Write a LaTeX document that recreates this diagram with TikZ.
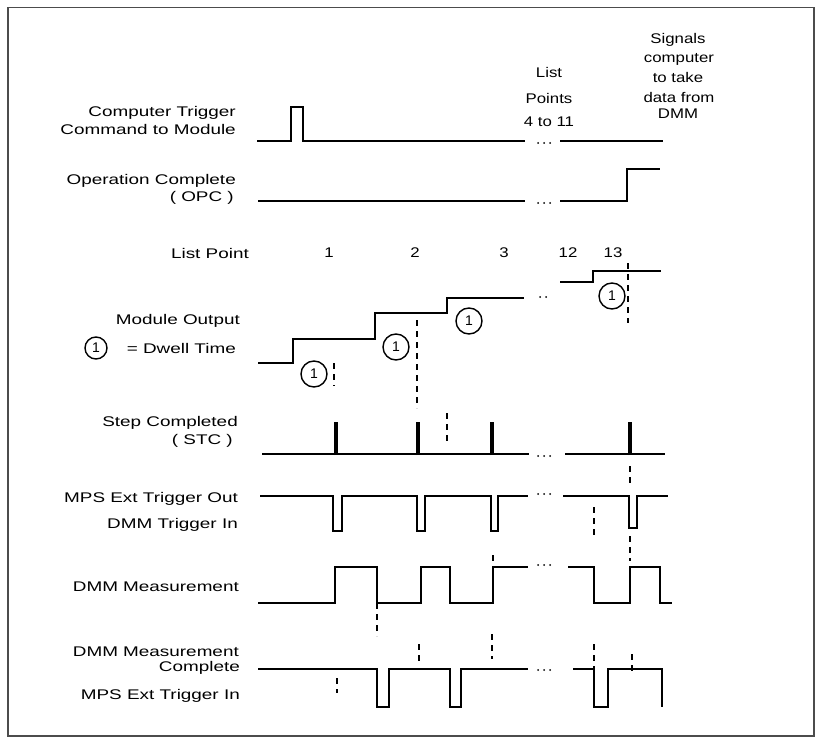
\documentclass[tikz,border=0pt]{standalone}
\usepackage{graphicx}
\usepackage{fontspec}
\setmainfont{Liberation Sans}
\newcommand{\wl}[1]{\scalebox{1.35}[1]{#1}}
\newcommand{\wc}[1]{\scalebox{1.2}[1]{#1}}
\begin{document}
\begin{tikzpicture}[x=1pt,y=-1pt,
  lbl/.style={font=\fontsize{14}{16}\selectfont, inner sep=0pt, anchor=east},
  ctr/.style={font=\fontsize{14}{16}\selectfont, inner sep=0pt},
  sig/.style={line width=2.5pt, line join=miter},
  thinsig/.style={line width=1.6pt, line join=miter},
  pulse/.style={line width=3.4pt},
  guide/.style={line width=1.1pt, dash pattern=on 6pt off 5pt},
  dwell/.style={circle, draw, line width=1.4pt, minimum size=26pt, inner sep=0pt, font=\fontsize{14}{15}\selectfont},
  gapdot/.style={circle, fill, inner sep=0pt, minimum size=2pt}
]
\useasboundingbox (0,0) rectangle (816,738);
\draw[line width=1.6pt, black!70] (8,7.5) rectangle (814,736);

% left labels
\node[lbl] (l1a) at (236,113) {\wl{Computer Trigger}};
\node[lbl] (l1b) at (236,129) {\wl{Command to Module}};
\node[lbl] (l2a) at (236,181) {\wl{Operation Complete}};
\node[lbl] (l2b) at (234,198) {\wl{( OPC )}};
\node[lbl] (l3) at (249,253) {\wl{List Point}};
\node[lbl] (l4a) at (240,321) {\wl{Module Output}};
\node[lbl] (l4b) at (236,348) {\wl{= Dwell Time}};
\node[dwell, minimum size=22pt] (leg) at (96,348) {1};
\node[lbl] (l5a) at (238,423) {\wl{Step Completed}};
\node[lbl] (l5b) at (233,441) {\wl{( STC )}};
\node[lbl] (l6a) at (238,499) {\wl{MPS Ext Trigger Out}};
\node[lbl] (l6b) at (238,525) {\wl{DMM Trigger In}};
\node[lbl] (l7) at (239,587) {\wl{DMM Measurement}};
\node[lbl] (l8a) at (239,652) {\wl{DMM Measurement}};
\node[lbl] (l8b) at (240,668) {\wl{Complete}};
\node[lbl] (l8c) at (240,696) {\wl{MPS Ext Trigger In}};

% top texts
\node[ctr] (lp1) at (549,72) {\wc{List}};
\node[ctr] (lp2) at (549,98) {\wc{Points}};
\node[ctr] (lp3) at (549,122) {\wc{4 to 11}};
\node[ctr] (s1) at (678,40) {\wc{Signals}};
\node[ctr] (s2) at (679,59) {\wc{computer}};
\node[ctr] (s3) at (678,77) {\wc{to take}};
\node[ctr] (s4) at (679,97) {\wc{data from}};
\node[ctr] (s5) at (678,114) {\wc{DMM}};

% list point numbers
\node[ctr] (n1) at (329,253) {\wc{1}};
\node[ctr] (n2) at (415,253) {\wc{2}};
\node[ctr] (n3) at (504,253) {\wc{3}};
\node[ctr] (n12) at (568,253) {\wc{12}};
\node[ctr] (n13) at (613,253) {\wc{13}};

% gap dots
\foreach \y [count=\i] in {143,203,456,494,565,670}{
  \node[gapdot] (ga\i) at (538,\y) {};
  \node[gapdot] (gb\i) at (544,\y) {};
  \node[gapdot] (gc\i) at (550,\y) {};
}
\node[gapdot] (md1) at (540,297) {};
\node[gapdot] (md2) at (546,297) {};

% Computer trigger
\draw[thinsig] (257,141) -- (291,141) -- (291,107) -- (303,107) -- (303,141) -- (525,141);
\draw[line width=2.6pt] (291,107) -- (303,107);
\draw[thinsig] (560,141) -- (663,141);

% OPC
\draw[thinsig] (258,201) -- (525,201);
\draw[thinsig] (560,201) -- (627,201) -- (627,169) -- (660,169);
\draw[line width=2.8pt] (627,169) -- (660,169);

% Module output
\draw[sig] (258,363) -- (293,363) -- (293,339) -- (375,339) -- (375,313) -- (447,313) -- (447,298) -- (524,298);
\draw[thinsig] (560,282) -- (593,282) -- (593,271) -- (661,271);
\node[dwell] (d1) at (314,374) {1};
\node[dwell] (d2) at (396,347) {1};
\node[dwell] (d3) at (469,321) {1};
\node[dwell] (d4) at (612,296) {1};

% Step completed
\draw[sig] (262,454) -- (529,454);
\draw[sig] (565,454) -- (665,454);
\foreach \x in {336,418,492,630}{ \draw[pulse] (\x,455) -- (\x,422); }

% MPS ext trigger out
\draw[sig] (260,496) -- (333,496) -- (333,531) -- (342,531) -- (342,496)
  -- (417,496) -- (417,531) -- (425,531) -- (425,496)
  -- (491,496) -- (491,531) -- (498,531) -- (498,496) -- (528,496);
\draw[thinsig] (563,496) -- (629,496) -- (629,528) -- (637,528) -- (637,496) -- (668,496);
\draw[sig] (629,496) -- (629,528) -- (637,528) -- (637,496);

% DMM measurement
\draw[sig] (258,603) -- (335,603) -- (335,567) -- (377,567) -- (377,603)
  -- (421,603) -- (421,567) -- (450,567) -- (450,603)
  -- (493,603) -- (493,567) -- (528,567);
\draw[thinsig] (568,567) -- (594,567) -- (594,603) -- (630,603) -- (630,567) -- (660,567) -- (660,603) -- (672,603);

% DMM measurement complete / MPS ext trigger in
\draw[sig] (258,669) -- (377,669) -- (377,707) -- (389,707) -- (389,669)
  -- (450,669) -- (450,707) -- (461,707) -- (461,669) -- (528,669);
\draw[thinsig] (573,669) -- (594,669) -- (594,707) -- (608,707) -- (608,669) -- (662,669) -- (662,707);
\draw[sig] (594,669) -- (594,707) -- (608,707) -- (608,669);

% guide dashes
\draw[guide] (334,363) -- (334,386);
\draw[guide] (417,320) -- (417,408);
\draw[guide] (447,413) -- (447,441);
\draw[guide] (628,263) -- (628,323);
\draw[guide] (630,466) -- (630,484);
\draw[guide] (630,536) -- (630,561);
\draw[guide] (594,507) -- (594,539);
\draw[guide] (377,603) -- (377,636);
\draw[guide] (493,555) -- (493,561);
\draw[guide] (337,678) -- (337,693);
\draw[guide] (419,644) -- (419,663);
\draw[guide] (492,634) -- (492,659);
\draw[guide] (594,644) -- (594,669);
\draw[guide] (632,654) -- (632,671);
\end{tikzpicture}
\end{document}
